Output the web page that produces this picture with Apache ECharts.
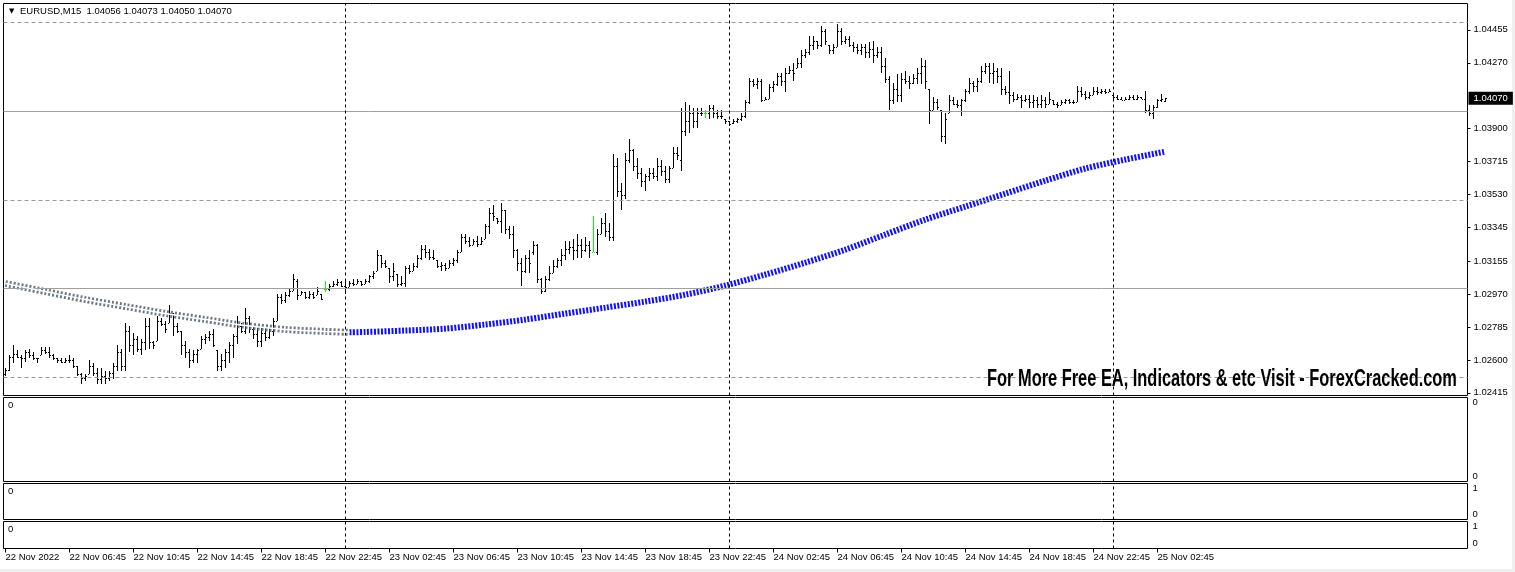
<!DOCTYPE html>
<html><head><meta charset="utf-8">
<script src="https://cdn.jsdelivr.net/npm/echarts@6/dist/echarts.min.js"></script>
<style>html,body{margin:0;padding:0;background:#fff;}#c{width:1515px;height:572px;}</style>
</head><body><div id="c"></div>
<script>
const symbolName = 'EURUSD,M15';
const xTickBars = [0,16,32,48,64,80,96,112,128,144,160,176,192,208,224,240,256,272,288];
const xTickLabels = ['22 Nov 2022','22 Nov 06:45','22 Nov 10:45','22 Nov 14:45','22 Nov 18:45','22 Nov 22:45','23 Nov 02:45','23 Nov 06:45','23 Nov 10:45','23 Nov 14:45','23 Nov 18:45','23 Nov 22:45','24 Nov 02:45','24 Nov 06:45','24 Nov 10:45','24 Nov 14:45','24 Nov 18:45','24 Nov 22:45','25 Nov 02:45'];
const yTickValues = [1.04455,1.04270,1.03900,1.03715,1.03530,1.03345,1.03155,1.02970,1.02785,1.02600,1.02415];
const daySeparatorBars = [85,181,277];
const solidLevels = [1.04000,1.03000];
const dashedLevels = [1.04500,1.03500,1.02500];
const paneLabels = [['0','0'],['0','1'],['0','1']];
const watermark = 'For More Free EA, Indicators & etc Visit - ForexCracked.com';

const open = [
1.02523,1.02546,1.02619,1.02636,1.02619,1.02608,1.02642,1.02625,1.02608,1.02625,
1.02653,1.02647,1.02625,1.02608,1.02597,1.02591,1.02602,1.02597,1.02563,1.02523,
1.02501,1.02523,1.02563,1.02529,1.02495,1.02512,1.02501,1.02529,1.02563,1.02642,
1.02568,1.02765,1.02681,1.02720,1.02664,1.02698,1.02793,1.02698,1.02709,1.02821,
1.02804,1.02810,1.02866,1.02793,1.02765,1.02681,1.02642,1.02597,1.02636,1.02664,
1.02720,1.02731,1.02748,1.02653,1.02568,1.02597,1.02642,1.02681,1.02737,1.02793,
1.02765,1.02833,1.02776,1.02748,1.02709,1.02754,1.02731,1.02765,1.02821,1.02951,
1.02939,1.02967,1.02990,1.03046,1.02962,1.02979,1.02956,1.02973,1.02962,1.02973,
1.02996,1.02996,1.03018,1.03029,1.03040,1.03018,1.03007,1.03035,1.03029,1.03046,
1.03029,1.03046,1.03069,1.03102,1.03187,1.03147,1.03119,1.03074,1.03085,1.03029,
1.03035,1.03114,1.03102,1.03130,1.03170,1.03226,1.03204,1.03181,1.03159,1.03125,
1.03136,1.03119,1.03142,1.03159,1.03204,1.03288,1.03271,1.03248,1.03271,1.03254,
1.03282,1.03350,1.03428,1.03400,1.03383,1.03440,1.03338,1.03310,1.03215,1.03147,
1.03102,1.03170,1.03204,1.03243,1.03057,1.02990,1.03057,1.03091,1.03130,1.03159,
1.03187,1.03226,1.03237,1.03215,1.03243,1.03215,1.03243,1.03209,1.03209,1.03310,
1.03372,1.03327,1.03293,1.03692,1.03552,1.03524,1.03721,1.03777,1.03692,1.03653,
1.03608,1.03631,1.03653,1.03636,1.03692,1.03664,1.03619,1.03676,1.03765,1.03721,
1.03889,1.03945,1.03990,1.03945,1.03990,1.03985,1.03985,1.04013,1.03990,1.03973,
1.03956,1.03940,1.03934,1.03945,1.03956,1.03973,1.04047,1.04170,1.04148,1.04170,
1.04063,1.04069,1.04136,1.04148,1.04193,1.04170,1.04215,1.04232,1.04238,1.04271,
1.04311,1.04328,1.04367,1.04395,1.04367,1.04451,1.04367,1.04339,1.04356,1.04451,
1.04395,1.04406,1.04372,1.04356,1.04339,1.04356,1.04328,1.04350,1.04311,1.04328,
1.04249,1.04181,1.04058,1.04125,1.04086,1.04181,1.04170,1.04159,1.04187,1.04215,
1.04254,1.04125,1.04002,1.04047,1.04002,1.03861,1.03985,1.04058,1.04041,1.04030,
1.04058,1.04114,1.04159,1.04142,1.04170,1.04226,1.04249,1.04215,1.04226,1.04198,
1.04125,1.04103,1.04086,1.04069,1.04080,1.04058,1.04069,1.04047,1.04058,1.04041,
1.04058,1.04041,1.04058,1.04041,1.04030,1.04047,1.04058,1.04052,1.04047,1.04114,
1.04097,1.04080,1.04091,1.04114,1.04103,1.04114,1.04108,1.04086,1.04075,1.04069,
1.04063,1.04069,1.04075,1.04069,1.04075,1.04069,1.04002,1.03990,1.04024,1.04058,
1.04056];
const high = [
1.02552,1.02625,1.02681,1.02653,1.02625,1.02658,1.02664,1.02642,1.02613,1.02670,
1.02670,1.02675,1.02636,1.02613,1.02608,1.02608,1.02625,1.02613,1.02568,1.02529,
1.02523,1.02602,1.02580,1.02552,1.02552,1.02540,1.02540,1.02580,1.02681,1.02664,
1.02810,1.02793,1.02754,1.02737,1.02720,1.02833,1.02833,1.02709,1.02849,1.02833,
1.02821,1.02911,1.02866,1.02810,1.02765,1.02709,1.02664,1.02653,1.02664,1.02737,
1.02748,1.02765,1.02776,1.02653,1.02636,1.02664,1.02698,1.02748,1.02849,1.02810,
1.02889,1.02849,1.02793,1.02782,1.02782,1.02782,1.02782,1.02833,1.02973,1.02973,
1.02979,1.03001,1.03085,1.03057,1.02990,1.02979,1.02990,1.02984,1.03007,1.02973,
1.03046,1.03029,1.03046,1.03057,1.03046,1.03046,1.03046,1.03052,1.03057,1.03046,
1.03057,1.03080,1.03102,1.03215,1.03187,1.03159,1.03119,1.03142,1.03085,1.03074,
1.03130,1.03136,1.03142,1.03187,1.03248,1.03243,1.03226,1.03215,1.03159,1.03153,
1.03147,1.03159,1.03175,1.03215,1.03310,1.03310,1.03288,1.03282,1.03299,1.03288,
1.03366,1.03451,1.03468,1.03400,1.03484,1.03440,1.03355,1.03355,1.03226,1.03175,
1.03187,1.03215,1.03271,1.03254,1.03063,1.03074,1.03130,1.03159,1.03175,1.03226,
1.03271,1.03271,1.03282,1.03310,1.03282,1.03288,1.03271,1.03411,1.03338,1.03395,
1.03423,1.03372,1.03760,1.03732,1.03597,1.03765,1.03844,1.03788,1.03732,1.03681,
1.03647,1.03681,1.03681,1.03732,1.03721,1.03692,1.03692,1.03794,1.03794,1.04013,
1.04047,1.04030,1.04013,1.04013,1.04013,1.04002,1.04030,1.04030,1.04002,1.04002,
1.03956,1.03945,1.03956,1.03962,1.03985,1.04058,1.04187,1.04181,1.04187,1.04181,
1.04075,1.04153,1.04170,1.04215,1.04215,1.04238,1.04254,1.04266,1.04299,1.04339,
1.04350,1.04423,1.04423,1.04395,1.04479,1.04462,1.04367,1.04378,1.04490,1.04468,
1.04423,1.04423,1.04384,1.04378,1.04378,1.04378,1.04384,1.04395,1.04356,1.04356,
1.04294,1.04198,1.04159,1.04209,1.04215,1.04226,1.04198,1.04209,1.04243,1.04294,
1.04283,1.04125,1.04075,1.04069,1.04002,1.03990,1.04086,1.04075,1.04058,1.04069,
1.04125,1.04187,1.04170,1.04187,1.04254,1.04271,1.04271,1.04266,1.04238,1.04238,
1.04142,1.04226,1.04103,1.04097,1.04086,1.04086,1.04086,1.04086,1.04075,1.04086,
1.04075,1.04103,1.04058,1.04047,1.04058,1.04069,1.04069,1.04058,1.04142,1.04131,
1.04114,1.04103,1.04131,1.04131,1.04125,1.04125,1.04125,1.04086,1.04086,1.04075,
1.04075,1.04086,1.04086,1.04086,1.04075,1.04114,1.04030,1.04030,1.04069,1.04097,
1.04073];
const low = [
1.02512,1.02540,1.02585,1.02613,1.02557,1.02591,1.02613,1.02597,1.02585,1.02625,
1.02636,1.02613,1.02602,1.02585,1.02580,1.02580,1.02585,1.02552,1.02512,1.02462,
1.02484,1.02523,1.02512,1.02467,1.02462,1.02467,1.02484,1.02495,1.02540,1.02540,
1.02540,1.02642,1.02625,1.02642,1.02625,1.02653,1.02664,1.02664,1.02709,1.02793,
1.02754,1.02810,1.02737,1.02754,1.02625,1.02613,1.02557,1.02585,1.02585,1.02664,
1.02692,1.02709,1.02670,1.02540,1.02540,1.02552,1.02580,1.02613,1.02692,1.02754,
1.02748,1.02754,1.02720,1.02670,1.02670,1.02709,1.02720,1.02737,1.02821,1.02917,
1.02922,1.02951,1.02990,1.02934,1.02962,1.02945,1.02945,1.02945,1.02962,1.02934,
1.02979,1.02990,1.03007,1.03018,1.03007,1.02973,1.03007,1.03018,1.03024,1.03018,
1.03029,1.03035,1.03057,1.03102,1.03114,1.03114,1.03035,1.03046,1.03007,1.03018,
1.03007,1.03085,1.03102,1.03114,1.03159,1.03170,1.03164,1.03159,1.03114,1.03102,
1.03102,1.03114,1.03130,1.03142,1.03204,1.03254,1.03232,1.03243,1.03232,1.03243,
1.03282,1.03310,1.03383,1.03366,1.03316,1.03310,1.03282,1.03175,1.03102,1.03018,
1.03091,1.03091,1.03187,1.03035,1.02973,1.02979,1.03046,1.03091,1.03119,1.03130,
1.03159,1.03198,1.03159,1.03175,1.03170,1.03204,1.03170,1.03204,1.03187,1.03310,
1.03288,1.03271,1.03271,1.03513,1.03440,1.03507,1.03704,1.03664,1.03619,1.03569,
1.03552,1.03608,1.03619,1.03608,1.03636,1.03597,1.03597,1.03676,1.03721,1.03664,
1.03861,1.03878,1.03906,1.03906,1.03973,1.03962,1.03956,1.03962,1.03956,1.03956,
1.03928,1.03912,1.03928,1.03934,1.03945,1.03962,1.04041,1.04131,1.04125,1.04047,
1.04058,1.04069,1.04103,1.04142,1.04142,1.04103,1.04209,1.04170,1.04238,1.04243,
1.04294,1.04311,1.04339,1.04350,1.04356,1.04367,1.04322,1.04322,1.04356,1.04367,
1.04378,1.04356,1.04328,1.04322,1.04311,1.04299,1.04299,1.04271,1.04299,1.04215,
1.04159,1.04002,1.04041,1.04047,1.04047,1.04153,1.04125,1.04153,1.04153,1.04153,
1.04125,1.03928,1.04002,1.04002,1.03822,1.03816,1.03985,1.04030,1.04013,1.03973,
1.04047,1.04097,1.04103,1.04103,1.04159,1.04209,1.04159,1.04153,1.04159,1.04086,
1.04086,1.04041,1.04047,1.04058,1.04018,1.04047,1.04018,1.04013,1.04018,1.04018,
1.04013,1.04041,1.04030,1.04013,1.04030,1.04041,1.04041,1.04041,1.04047,1.04075,
1.04058,1.04069,1.04086,1.04086,1.04097,1.04097,1.04103,1.04058,1.04058,1.04058,
1.04058,1.04058,1.04058,1.04058,1.04069,1.03985,1.03973,1.03956,1.04013,1.04047,
1.04050];
const close = [
1.02546,1.02619,1.02636,1.02619,1.02608,1.02642,1.02625,1.02608,1.02613,1.02653,
1.02647,1.02625,1.02608,1.02597,1.02591,1.02602,1.02597,1.02563,1.02523,1.02501,
1.02512,1.02563,1.02529,1.02495,1.02512,1.02501,1.02529,1.02563,1.02642,1.02568,
1.02765,1.02681,1.02720,1.02664,1.02698,1.02793,1.02698,1.02681,1.02821,1.02804,
1.02776,1.02866,1.02793,1.02765,1.02681,1.02642,1.02597,1.02636,1.02653,1.02720,
1.02731,1.02748,1.02681,1.02568,1.02597,1.02642,1.02681,1.02737,1.02793,1.02765,
1.02833,1.02776,1.02748,1.02709,1.02754,1.02731,1.02765,1.02821,1.02951,1.02939,
1.02967,1.02990,1.03057,1.02962,1.02979,1.02956,1.02973,1.02956,1.02990,1.02945,
1.02996,1.03018,1.03029,1.03040,1.03018,1.03007,1.03035,1.03029,1.03046,1.03029,
1.03046,1.03069,1.03091,1.03187,1.03147,1.03125,1.03074,1.03102,1.03029,1.03035,
1.03114,1.03102,1.03130,1.03170,1.03226,1.03204,1.03181,1.03170,1.03125,1.03136,
1.03119,1.03142,1.03159,1.03204,1.03288,1.03271,1.03248,1.03271,1.03254,1.03271,
1.03350,1.03428,1.03411,1.03383,1.03440,1.03338,1.03310,1.03215,1.03147,1.03102,
1.03170,1.03147,1.03243,1.03057,1.02990,1.03057,1.03091,1.03130,1.03159,1.03187,
1.03226,1.03237,1.03215,1.03243,1.03215,1.03243,1.03215,1.03209,1.03310,1.03372,
1.03327,1.03293,1.03692,1.03552,1.03524,1.03721,1.03777,1.03692,1.03653,1.03608,
1.03631,1.03653,1.03636,1.03692,1.03664,1.03619,1.03676,1.03765,1.03749,1.03889,
1.03945,1.03990,1.03945,1.03990,1.03985,1.03985,1.04013,1.03990,1.03973,1.03968,
1.03940,1.03923,1.03945,1.03956,1.03973,1.04047,1.04170,1.04148,1.04170,1.04063,
1.04069,1.04136,1.04148,1.04193,1.04170,1.04215,1.04232,1.04215,1.04271,1.04311,
1.04328,1.04367,1.04395,1.04367,1.04451,1.04395,1.04339,1.04356,1.04451,1.04395,
1.04406,1.04372,1.04356,1.04339,1.04356,1.04328,1.04350,1.04311,1.04328,1.04249,
1.04181,1.04058,1.04125,1.04086,1.04181,1.04170,1.04159,1.04187,1.04215,1.04254,
1.04170,1.04002,1.04047,1.04024,1.03861,1.03956,1.04058,1.04041,1.04030,1.04058,
1.04114,1.04159,1.04142,1.04170,1.04226,1.04249,1.04215,1.04226,1.04198,1.04125,
1.04103,1.04086,1.04069,1.04080,1.04058,1.04069,1.04047,1.04058,1.04041,1.04058,
1.04041,1.04069,1.04041,1.04030,1.04047,1.04058,1.04052,1.04047,1.04114,1.04097,
1.04080,1.04091,1.04114,1.04103,1.04114,1.04108,1.04114,1.04075,1.04069,1.04063,
1.04069,1.04075,1.04069,1.04075,1.04069,1.04002,1.03990,1.04024,1.04058,1.04069,
1.04070];
const maBars = [0,10,20,30,40,50,60,70,80,86,90,100,110,120,130,140,150,160,170,180,190,200,210,220,230,240,250,260,270,280,290];
const maValues = [1.03029,1.02984,1.02939,1.02900,1.02861,1.02827,1.02793,1.02771,1.02760,1.02755,1.02757,1.02765,1.02776,1.02799,1.02827,1.02861,1.02894,1.02928,1.02967,1.03018,1.03080,1.03147,1.03220,1.03305,1.03389,1.03462,1.03535,1.03608,1.03676,1.03726,1.03771];
const maTurnBar = 86;

const FONT = 'Liberation Sans';
const chart = echarts.init(document.getElementById('c'), null, {renderer:'canvas', width:1515, height:572});
const ohlc = open.map((o,i)=>[i,o,high[i],low[i],close[i]]);
const last = ohlc.length-1;
const maPts = maBars.map((b,k)=>[b,maValues[k]]);
const maDown = maPts.filter(p=>p[0]<=maTurnBar);
const maUp = maPts.filter(p=>p[0]>=maTurnBar);

function renderOHLC(params, api){
  const i = api.value(0), o = api.value(1), h = api.value(2), l = api.value(3), c = api.value(4);
  const pH = api.coord([i,h]), pL = api.coord([i,l]), pO = api.coord([i,o]), pC = api.coord([i,c]);
  const x = Math.floor(pH[0]);
  const yH = Math.round(pH[1]);
  const yL = Math.max(Math.round(pL[1]), yH+1);
  const col = (o===c) ? '#00ff00' : '#000000';
  return {type:'group', children:[
    {type:'rect', shape:{x:x, y:yH, width:1, height:yL-yH}, style:{fill:col}},
    {type:'rect', shape:{x:x-1, y:Math.round(pO[1]), width:1, height:1}, style:{fill:col}},
    {type:'rect', shape:{x:x+1, y:Math.round(pC[1]), width:1, height:1}, style:{fill:col}}
  ]};
}

const gridDefs = [
  {left:3.5, top:3.5, width:1464, height:392},
  {left:3.5, top:397.5, width:1464, height:84},
  {left:3.5, top:483.5, width:1464, height:36},
  {left:3.5, top:521.5, width:1464, height:27}
].map(g=>Object.assign(g,{show:true, borderColor:'#000', borderWidth:1, backgroundColor:'#fff', outerBoundsMode:'none', containLabel:false}));

const labelStyle = {fontFamily:FONT, fontSize:9.5, color:'#000'};
const xAxes = gridDefs.map((g,k)=>({
  type:'value', gridIndex:k, min:-0.5, max:365.5, show:k===3, position:'bottom',
  axisLine:{show:false, onZero:false}, splitLine:{show:false},
  axisTick:{show:true, length:4, inside:false, customValues:xTickBars, lineStyle:{color:'#000', width:1}},
  axisLabel:Object.assign({show:true, customValues:xTickBars, align:'left', margin:4,
    formatter:v=>xTickLabels[xTickBars.indexOf(v)]}, labelStyle)
}));
const yAxes = [{
  type:'value', gridIndex:0, min:1.02400, max:1.04603, position:'right',
  axisLine:{show:false, onZero:false}, splitLine:{show:false},
  axisTick:{show:true, length:3, inside:false, customValues:yTickValues, lineStyle:{color:'#000'}},
  axisLabel:Object.assign({customValues:yTickValues, margin:6, formatter:v=>v.toFixed(5)}, labelStyle)
}];
for(let k=1;k<=3;k++){
  yAxes.push({
    type:'value', gridIndex:k, min:0, max:1, position:'right',
    axisLine:{show:false, onZero:false}, splitLine:{show:false},
    axisTick:{show:false},
    axisLabel:Object.assign({customValues:[0,1], margin:5,
      verticalAlignMinLabel:'bottom', verticalAlignMaxLabel:'top',
      formatter:v=>paneLabels[k-1][v]}, labelStyle)
  });
}

const sepLines = daySeparatorBars.map(b=>({xAxis:b}));
const levelLines = []
  .concat(solidLevels.map(v=>({yAxis:v, lineStyle:{type:'solid', color:'#a0a0a0', width:1}})))
  .concat(dashedLevels.map(v=>({yAxis:v, lineStyle:{type:[4,3], color:'#9a9a9a', width:1}})));

const series = [
  {type:'line', xAxisIndex:0, yAxisIndex:0, data:[], silent:true, z:1,
   markLine:{silent:true, precision:5, symbol:['none','none'], animation:false, label:{show:false},
     data: levelLines.concat(sepLines.map(s=>Object.assign({lineStyle:{type:[3,3], color:'#000', width:1}}, s)))}},
  {type:'custom', name:'EURUSD', xAxisIndex:0, yAxisIndex:0, data:ohlc, renderItem:renderOHLC,
   encode:{x:0, y:[1,2,3,4]}, z:3, silent:true, clip:true},
  {type:'line', xAxisIndex:0, yAxisIndex:0, data:maDown, showSymbol:false, smooth:0.3, z:4, silent:true,
   lineStyle:{color:'#6c7986', width:7, type:[2,2]}},
  {type:'line', xAxisIndex:0, yAxisIndex:0, data:maDown, showSymbol:false, smooth:0.3, z:5, silent:true,
   lineStyle:{color:'#ffffff', width:1.5}},
  {type:'line', xAxisIndex:0, yAxisIndex:0, data:maUp, showSymbol:false, smooth:0.3, z:4, silent:true,
   lineStyle:{color:'#1010ff', width:6, type:[2,1.5]}},
  {type:'line', xAxisIndex:0, yAxisIndex:0, data:[], silent:true, z:6,
   markLine:{silent:true, precision:5, symbol:['none','none'], animation:false,
     data:[{yAxis:close[last], lineStyle:{color:'rgba(0,0,0,0)', width:1},
       label:{show:true, position:'end', distance:1, formatter:()=>close[last].toFixed(5),
         backgroundColor:'#000', color:'#fff', fontFamily:FONT, fontSize:9.5, padding:[2,5,1,5]}}]}}
];
for(let k=1;k<=3;k++){
  series.push({type:'line', xAxisIndex:k, yAxisIndex:k, data:[], silent:true,
    markLine:{silent:true, symbol:['none','none'], animation:false, label:{show:false},
      data: sepLines.map(s=>Object.assign({lineStyle:{type:[3,3], color:'#000', width:1}}, s))}});
}

const hdr = symbolName + '  ' + [open[last],high[last],low[last],close[last]].map(v=>v.toFixed(5)).join(' ');
const graphic = [
  {type:'rect', shape:{x:1512, y:0, width:3, height:572}, style:{fill:'#f0f0f0'}, silent:true},
  {type:'rect', shape:{x:0, y:569, width:1515, height:3}, style:{fill:'#f0f0f0'}, silent:true},
  {type:'text', x:9, y:8, style:{text:'▼', font:'7px "DejaVu Sans"', fill:'#000'}, z:10},
  {type:'text', x:20, y:6, style:{text:hdr, font:'9.5px "Liberation Sans"', fill:'#000'}, z:10},
  {type:'text', x:987, y:368, scaleX:0.713, style:{text:watermark, font:'bold 23px "Liberation Sans"', fill:'#000'}, z:10},
  {type:'text', x:8, y:400, style:{text:'0', font:'9.5px "Liberation Sans"', fill:'#000'}, z:10},
  {type:'text', x:8, y:486, style:{text:'0', font:'9.5px "Liberation Sans"', fill:'#000'}, z:10},
  {type:'text', x:8, y:524, style:{text:'0', font:'9.5px "Liberation Sans"', fill:'#000'}, z:10}
];

chart.setOption({
  animation:false,
  backgroundColor:'#ffffff',
  grid:gridDefs,
  xAxis:xAxes,
  yAxis:yAxes,
  series:series,
  graphic:graphic
});
</script></body></html>
